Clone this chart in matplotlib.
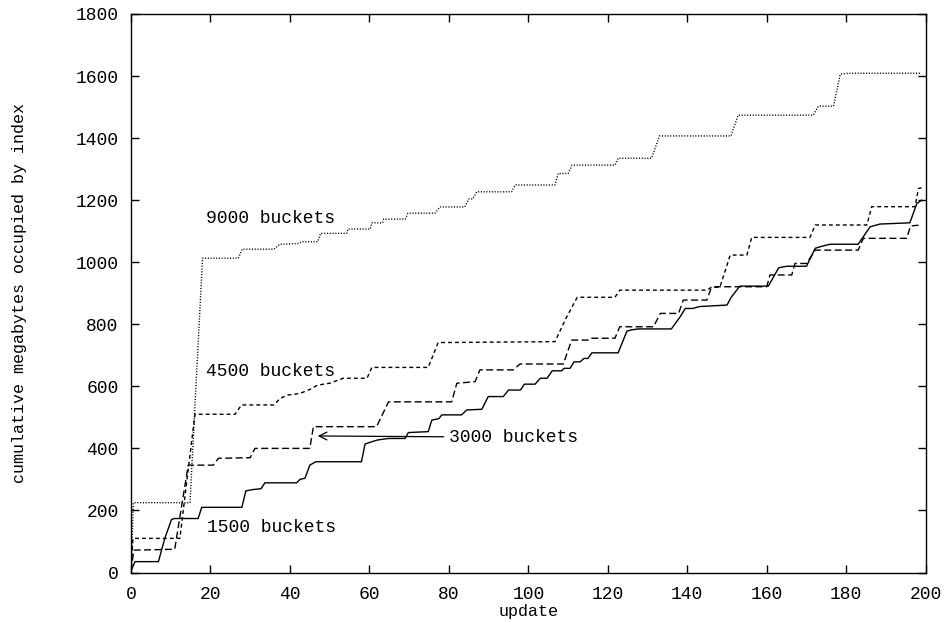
import matplotlib
matplotlib.use("Agg")
import matplotlib.pyplot as plt

# ---- data (vertices) ----
b1500_x = [0, 1, 6.9, 8.5, 10.2, 11, 16.9, 17.8, 27.9, 28.9, 30.5, 32.7, 33.7, 41.7, 42.5, 43.8, 45, 46.5,
           58, 58.9, 60.5, 62, 64.8, 69, 69.8, 74.8, 75.7, 77.5, 78.2, 83.2, 84.5, 88.3, 89.9, 93.7, 95, 98,
           99, 101.7, 103, 104.7, 106, 108.4, 109, 110.5, 111.5, 113, 114, 115, 116, 122.6, 124.8, 126,
           127.6, 136, 138.2, 139.5, 141.4, 143, 150, 151, 153.2, 160.4, 163, 165, 170, 172.2, 174, 176,
           183, 186, 188.5, 196, 197.8, 199]
b1500_y = [5, 35, 35, 110, 171, 174, 174, 210, 210, 263, 267, 270, 289, 289, 300, 304, 346, 357,
           357, 414, 421, 427, 432, 432, 451, 454, 491, 496, 508, 508, 524, 526, 567, 567, 588, 588,
           607, 607, 626, 626, 650, 650, 658, 658, 679, 679, 690, 690, 708, 708, 778, 782,
           785, 785, 824, 851, 851, 857, 862, 886, 923, 923, 982, 987, 987, 1045, 1052, 1058,
           1058, 1114, 1123, 1127, 1190, 1200]

b3000_x = [0, 0.7, 11, 14.4, 20.7, 22, 30, 31.2, 45, 45.9, 61.8, 64.8, 80.7, 82, 86.6, 87.8, 96.2, 97.9,
           108.8, 110.9, 115, 115.5, 121.8, 123, 131.5, 133.2, 137.8, 139, 144.9, 146, 147, 160, 160.8,
           166.3, 167.1, 170, 172.2, 183, 184.3, 195.2, 196.2, 199]
b3000_y = [5, 72, 75, 346, 346, 368, 370, 400, 400, 470, 470, 550, 550, 610, 615, 653, 653, 672,
           672, 749, 749, 755, 755, 792, 792, 835, 835, 878, 878, 916, 921, 921, 959,
           959, 996, 996, 1039, 1039, 1077, 1077, 1117, 1120]

b4500_x = [0, 0.5, 12.3, 16.1, 26.2, 27.8, 36, 37.5, 39.5, 42.5, 45, 47, 50, 53.4, 59.4, 60.6, 74.8, 77.3,
           106.7, 109.5, 112.3, 121.8, 123, 145, 146, 148.2, 150.8, 155, 156.2, 170.9, 172.2, 185.2,
           186.4, 197.3, 198.2, 199]
b4500_y = [5, 110, 110, 510, 510, 540, 540, 561, 572, 577, 590, 604, 610, 626, 626, 661, 661, 741,
           744, 820, 887, 887, 910, 910, 919, 919, 1023, 1023, 1080, 1080, 1120, 1120,
           1179, 1179, 1238, 1240]

b9000_x = [0, 0.6, 14.85, 18, 27, 28, 36, 37.5, 42, 43, 47, 47.7, 54.3, 54.6, 60.2, 60.6, 63.3, 63.6, 69,
           69.7, 76.5, 77.8, 84, 85, 86, 87, 95.8, 96.7, 106.7, 107.5, 110, 111, 121.8, 122.6, 131,
           133, 151, 152.8, 171.7, 173, 176.8, 178.5, 180.5, 198.6]
b9000_y = [5, 225, 225, 1013, 1013, 1042, 1042, 1058, 1060, 1066, 1066, 1093, 1093, 1107, 1107, 1127, 1127, 1139, 1139,
           1158, 1158, 1178, 1178, 1204, 1204, 1227, 1227, 1249, 1249, 1286, 1286, 1313, 1313, 1335, 1335,
           1407, 1407, 1474, 1474, 1503, 1503, 1606, 1609, 1609]

labels = ["1500 buckets", "3000 buckets", "4500 buckets", "9000 buckets"]
xticks = list(range(0, 201, 20))
yticks = list(range(0, 1801, 200))
xlabel = "update"
ylabel = "cumulative megabytes occupied by index"

FONT = "Liberation Mono"
FS = 13
FSL = 12

W, H = 944, 622
fig = plt.figure(figsize=(W / 100, H / 100), dpi=100)
ax = fig.add_axes([131 / W, 1 - 572.5 / H, (925.7 - 131) / W, (572.5 - 14) / H])

lw = 1.0
ax.plot(b1500_x, b1500_y, color="black", lw=lw, linestyle="-")
ax.plot(b3000_x, b3000_y, color="black", lw=lw, linestyle=(0, (5.0, 2.5)))
ax.plot(b4500_x, b4500_y, color="black", lw=lw, linestyle=(0, (2.8, 2.2)))
ax.plot(b9000_x, b9000_y, color="black", lw=lw, linestyle=(0, (0.8, 1.2)))

ax.set_xlim(0, 200)
ax.set_ylim(0, 1800)
ax.set_xticks(xticks)
ax.set_yticks(yticks)
ax.tick_params(direction="in", length=5.8, width=1.0, top=True, right=True,
               labelsize=FS)
ax.tick_params(axis="x", pad=9.5)
ax.tick_params(axis="y", pad=9)
for lab in ax.get_xticklabels() + ax.get_yticklabels():
    lab.set_fontfamily(FONT)
for sp in ax.spines.values():
    sp.set_linewidth(1.0)

fig.text(528.3 / W, 1 - 604 / H, xlabel, fontfamily=FONT, fontsize=FSL, ha="center", va="top")
fig.text(20 / W, 1 - 293 / H, ylabel, fontfamily=FONT, fontsize=FSL, ha="center", va="center",
         rotation=90)

ax.text(19, 1141, labels[3], fontfamily=FONT, fontsize=FS, va="center", ha="left")
ax.text(19, 647, labels[2], fontfamily=FONT, fontsize=FS, va="center", ha="left")
ax.text(19.2, 146, labels[0], fontfamily=FONT, fontsize=FS, va="center", ha="left")
ax.annotate(labels[1], xy=(47, 440), xytext=(80.1, 436), fontfamily=FONT, fontsize=FS,
            va="center", ha="left",
            arrowprops=dict(arrowstyle="->", color="black", lw=0.9, shrinkA=2, shrinkB=0,
                            mutation_scale=14))

fig.savefig("out.png", dpi=100)
